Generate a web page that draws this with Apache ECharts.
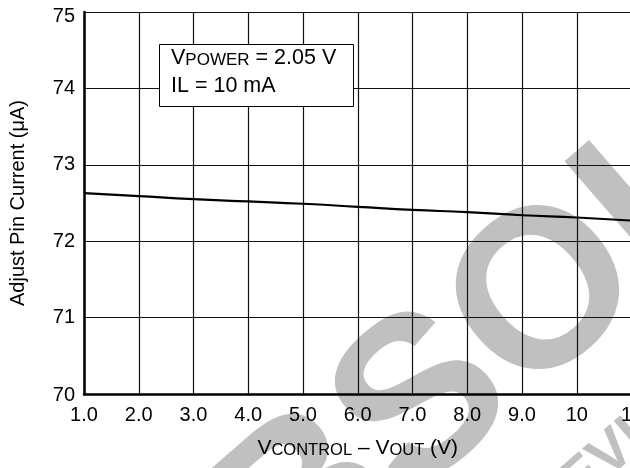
<!DOCTYPE html>
<html>
<head>
<meta charset="utf-8">
<script src="https://cdn.jsdelivr.net/npm/echarts@6/dist/echarts.min.js"></script>
<style>html,body{margin:0;padding:0;background:#fff;}#c{width:630px;height:468px;}</style>
</head>
<body>
<div id="c"></div>
<script>
// Data
var xValues = [1, 2, 3, 4, 5, 6, 7, 8, 9, 10, 11];
var adjustPinCurrent = [72.63, 72.59, 72.55, 72.52, 72.49, 72.45, 72.41, 72.38, 72.34, 72.31, 72.27];
var xTickLabels = ['1.0', '2.0', '3.0', '4.0', '5.0', '6.0', '7.0', '8.0', '9.0', '10', '11'];
var yTickLabels = ['70', '71', '72', '73', '74', '75'];

var FONT = 'Liberation Sans, Arial, Helvetica, sans-serif';
var chart = echarts.init(document.getElementById('c'), null, {renderer: 'canvas'});
var seriesData = xValues.map(function (x, i) { return [x, adjustPinCurrent[i]]; });

chart.setOption({
  animation: false,
  backgroundColor: '#fff',
  grid: {left: 84, top: 12, right: -1.5, bottom: 74, containLabel: false, outerBoundsMode: 'none'},
  xAxis: {
    type: 'value', min: 1, max: 11, interval: 1,
    axisLine: {show: true, onZero: false, lineStyle: {color: '#000', width: 2.5}},
    axisTick: {show: false},
    splitLine: {show: true, lineStyle: {color: '#111', width: 1.2}},
    axisLabel: {
      color: '#000', fontSize: 20, fontFamily: FONT, margin: 11,
      formatter: function (v) { return xTickLabels[Math.round(v) - 1]; }
    },
    name: '{v|V}{s|CONTROL}{v| – V}{s|OUT}{v| (V)}',
    nameLocation: 'middle', nameGap: 44,
    nameTextStyle: {
      fontFamily: FONT, color: '#000',
      rich: {
        v: {fontSize: 21, fontFamily: FONT, color: '#000', verticalAlign: 'bottom'},
        s: {fontSize: 16.5, fontFamily: FONT, color: '#000', verticalAlign: 'bottom'}
      }
    }
  },
  yAxis: {
    type: 'value', min: 70, max: 75, interval: 1,
    axisLine: {show: true, onZero: false, lineStyle: {color: '#000', width: 2.5}},
    axisTick: {show: false},
    splitLine: {show: true, lineStyle: {color: '#111', width: 1.2}},
    axisLabel: {
      color: '#000', fontSize: 20, fontFamily: FONT, margin: 9,
      formatter: function (v) {
        var t = yTickLabels[Math.round(v) - 70];
        if (v === 75) return '{top|' + t + '}';
        if (v === 70) return '{bot|' + t + '}';
        return t;
      },
      rich: {
        top: {fontSize: 20, fontFamily: FONT, color: '#000', padding: [8, 0, 0, 0]},
        bot: {fontSize: 20, fontFamily: FONT, color: '#000', padding: [3, 0, 0, 0]}
      }
    },
    name: 'Adjust Pin Current (μA)',
    nameLocation: 'middle', nameRotate: 90, nameGap: 56,
    nameTextStyle: {fontSize: 20, fontFamily: FONT, color: '#000'}
  },
  series: [{
    type: 'line', data: seriesData, smooth: true, symbol: 'none',
    lineStyle: {color: '#000', width: 2.2}, z: 5
  }],
  graphic: [
    {
      type: 'text', x: 581, y: 270, rotation: 0.7156, z: -10,
      style: {text: 'OBSOLETE', font: 'bold 225px ' + FONT, fill: '#c0c0c0', align: 'center', verticalAlign: 'middle'}
    },
    {
      type: 'text', x: 618, y: 449, rotation: 0.7156, z: -10,
      style: {text: 'DEVICE', font: 'bold 58px ' + FONT, fill: '#c0c0c0', align: 'center', verticalAlign: 'middle'}
    },
    {
      type: 'rect', z: 100,
      shape: {x: 159.5, y: 44.5, width: 194, height: 62},
      style: {fill: '#fff', stroke: '#000', lineWidth: 1}
    },
    {
      type: 'text', z: 101, x: 171, y: 58,
      style: {
        text: '{v|V}{s|POWER}{v| = 2.05 V}',
        verticalAlign: 'middle', align: 'left',
        rich: {
          v: {fontSize: 21.5, fontFamily: FONT, fill: '#000', verticalAlign: 'bottom'},
          s: {fontSize: 17, fontFamily: FONT, fill: '#000', verticalAlign: 'bottom'}
        }
      }
    },
    {
      type: 'text', z: 101, x: 171, y: 86,
      style: {text: 'IL = 10 mA', font: '21.5px ' + FONT, fill: '#000', verticalAlign: 'middle', align: 'left'}
    }
  ]
});
</script>
</body>
</html>
